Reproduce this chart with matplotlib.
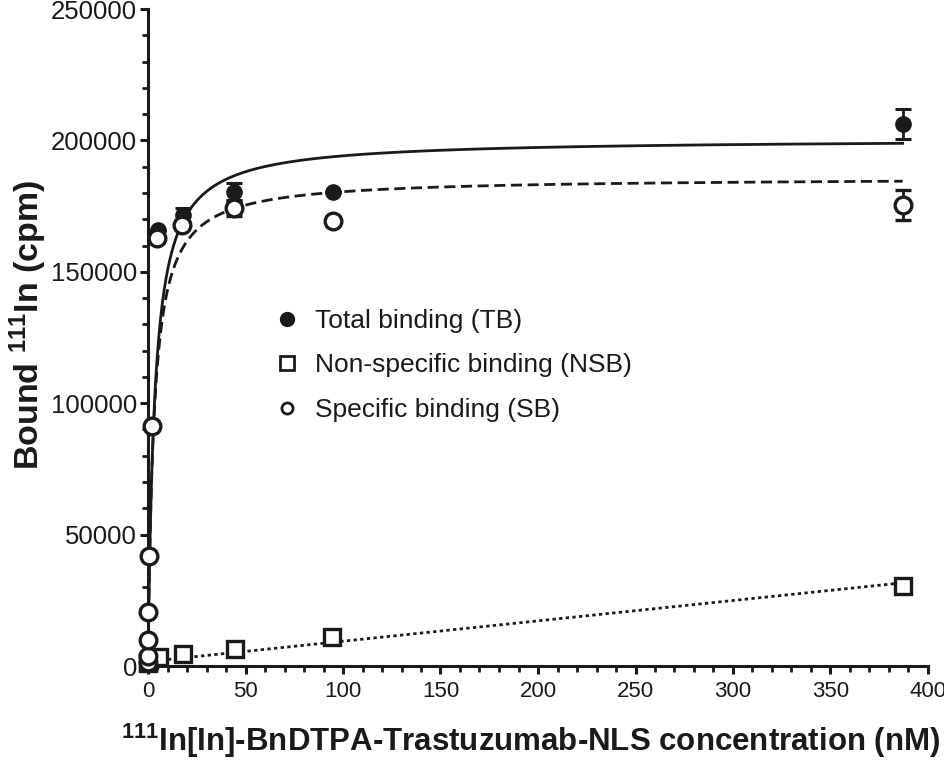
import numpy as np
import matplotlib
matplotlib.use("Agg")
import matplotlib.pyplot as plt
import matplotlib.transforms as mtransforms
from matplotlib.ticker import MultipleLocator
from matplotlib.lines import Line2D

plt.rcParams['font.family'] = ['Liberation Sans', 'DejaVu Sans']
plt.rcParams['mathtext.fontset'] = 'custom'
plt.rcParams['mathtext.rm'] = 'Liberation Sans'
plt.rcParams['mathtext.bf'] = 'Liberation Sans:bold'

# ---- data ----
conc_tb = [0.02, 0.05, 0.1, 0.2, 0.7, 1.9, 5.3, 18, 44, 95, 387]
tb = [1600, 3800, 9900, 20700, 41900, 91300, 165900, 171600, 180500, 180500, 206200]
tb_err = [0, 0, 0, 0, 0, 0, 0, 2500, 3200, 0, 5800]

conc_sb = [0.02, 0.05, 0.1, 0.2, 0.7, 1.9, 4.8, 17.3, 44, 95, 387]
sb = [1600, 3800, 9900, 20700, 41900, 91300, 162700, 167800, 174200, 169400, 175400]
sb_err = [0, 0, 0, 0, 0, 0, 0, 0, 2800, 0, 5800]

conc_nsb = [0.0, 0.2, 0.7, 5.8, 18.1, 44.6, 94.2, 387]
nsb = [1000, 1500, 2300, 3550, 4450, 6350, 11150, 30550]

# fit parameters (one-site hyperbola; linear NSB)
tb_bmax, tb_kd = 200600, 3.33
sb_bmax, sb_kd = 185900, 3.0
nsb_slope, nsb_icpt = 77.4, 1700

xfit = np.linspace(0, 387, 800)

INK = '#1a1a1a'
W, H = 945, 761
fig = plt.figure(figsize=(W / 100, H / 100), dpi=100)
ax = fig.add_axes([148 / W, 1 - 666 / H, 780 / W, 657 / H])

# fitted curves
ax.plot(xfit, tb_bmax * xfit / (tb_kd + xfit), color=INK, lw=2.0, ls='-', zorder=2)
ax.plot(xfit, sb_bmax * xfit / (sb_kd + xfit), color=INK, lw=2.0, ls=(0, (4, 2)), zorder=2)
ax.plot(xfit, nsb_slope * xfit + nsb_icpt, color=INK, lw=2.0, ls=(0, (1.2, 1.2)), zorder=2)

# data points
ax.errorbar(conc_tb, tb, yerr=tb_err, fmt='o', ms=11, mfc=INK, mec=INK,
            ecolor=INK, elinewidth=2, capsize=6, capthick=2.2, zorder=3, clip_on=False)
ax.errorbar(conc_nsb, nsb, fmt='s', ms=12, mfc='white', mec=INK, mew=2.4,
            ecolor=INK, zorder=4, clip_on=False)
ax.errorbar(conc_sb, sb, yerr=sb_err, fmt='o', ms=12, mfc='white', mec=INK, mew=2.4,
            ecolor=INK, elinewidth=2, capsize=6, capthick=2.2, zorder=5, clip_on=False)

ax.set_xlim(0, 400)
ax.set_ylim(0, 250000)
ax.xaxis.set_major_locator(MultipleLocator(50))
ax.xaxis.set_minor_locator(MultipleLocator(10))
ax.yaxis.set_major_locator(MultipleLocator(50000))
ax.yaxis.set_minor_locator(MultipleLocator(10000))

for s in ['top', 'right']:
    ax.spines[s].set_visible(False)
for s in ['left', 'bottom']:
    ax.spines[s].set_linewidth(2.2)
    ax.spines[s].set_color(INK)

ax.tick_params(which='major', length=6, width=2.2, color=INK, labelcolor=INK)
ax.tick_params(which='minor', length=4, width=2.0, color=INK)
ax.tick_params(axis='y', which='major', pad=2, labelsize=18.5)
ax.tick_params(axis='x', which='major', pad=5, labelsize=16)

# axis titles placed in figure pixels
fig.text(531 / W, 1 - 751 / H,
         r'$\mathbf{^{111}}$In[In]-BnDTPA-Trastuzumab-NLS concentration (nM)',
         fontsize=22.5, fontweight='bold', color=INK, ha='center', va='baseline')
fig.text(28 / W, 1 - 325 / H, r'Bound $\mathbf{^{111}}$In (cpm)', fontsize=24.5,
         fontweight='bold', color=INK, rotation=90, ha='center', va='center')

fig.canvas.draw()
last = ax.get_xticklabels()[-1]
last.set_transform(last.get_transform() +
                   mtransforms.ScaledTranslation(-7 / 72, 0, fig.dpi_scale_trans))

handles = [
    Line2D([], [], ls='none', marker='o', ms=10, mfc=INK, mec=INK),
    Line2D([], [], ls='none', marker='s', ms=10, mfc='white', mec=INK, mew=2),
    Line2D([], [], ls='none', marker='o', ms=8, mfc='white', mec=INK, mew=2),
]
labels = ['Total binding (TB)', 'Non-specific binding (NSB)', 'Specific binding (SB)']
fig.legend(handles, labels, loc='upper left', bbox_to_anchor=(250 / W, 1 - 285 / H),
           frameon=False, fontsize=19, handlelength=1.0, handletextpad=0.55,
           labelspacing=0.78, labelcolor=INK)

fig.savefig('out.png', dpi=100)
